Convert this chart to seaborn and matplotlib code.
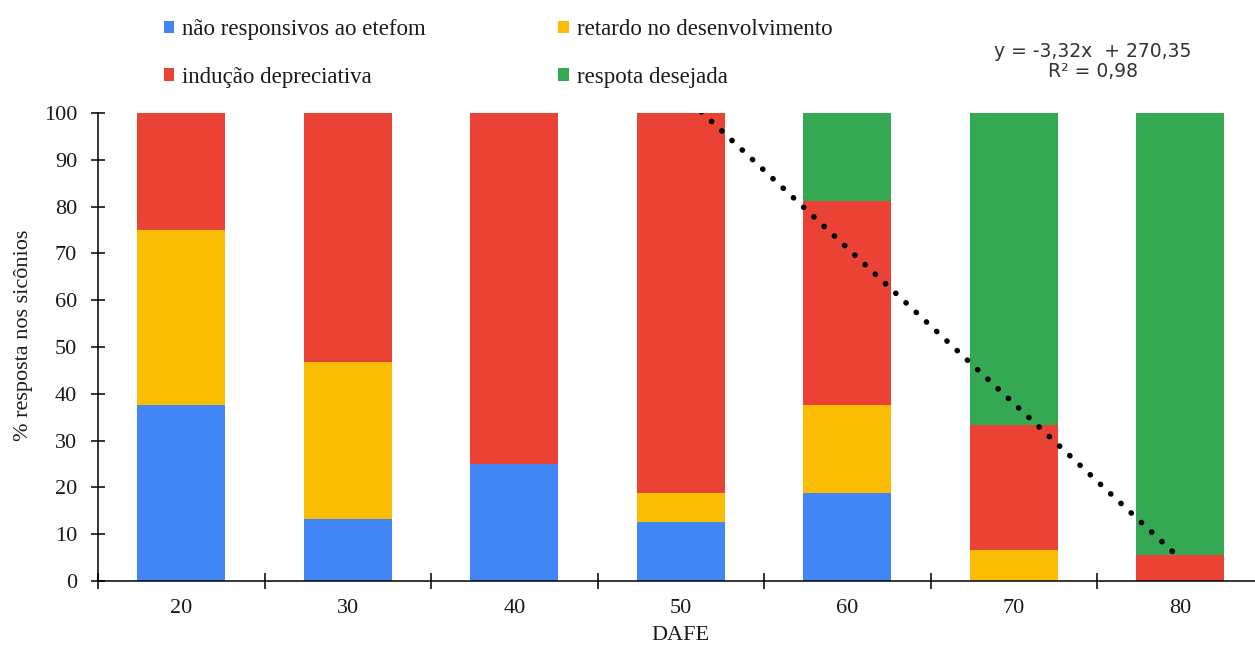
import numpy as np
import pandas as pd
import seaborn as sns
import matplotlib.pyplot as plt
from matplotlib.patches import Patch

# Days after ethephon application (DAFE) and response shares (%)
dafe = ["20", "30", "40", "50", "60", "70", "80"]
nao_responsivos = [37.5, 13.3, 25.0, 12.5, 18.75, 0.0, 0.0]
retardo = [37.5, 33.4, 0.0, 6.25, 18.75, 6.7, 0.0]
inducao = [25.0, 53.3, 75.0, 81.25, 43.75, 26.6, 5.6]
desejada = [0.0, 0.0, 0.0, 0.0, 18.75, 66.7, 94.4]

series_names = ["não responsivos ao etefom", "retardo no desenvolvimento",
                "indução depreciativa", "respota desejada"]
series_colors = ["#4285F4", "#FBBC04", "#EA4335", "#34A853"]

# Linear trend of the desired response
trend_slope = -3.32
trend_intercept = 270.35
trend_x_range = [50.0, 80.0]
trend_label = "y = -3,32x  + 270,35\nR² = 0,98"

y_ticks = list(range(0, 101, 10))

sns.set_theme(style="white")
plt.rcParams["font.family"] = ["Liberation Serif", "DejaVu Serif"]

fig = plt.figure(figsize=(12.55, 6.52), dpi=100)
ax = fig.add_axes([0.0781, 0.1089, 0.9287, 0.7178])

df = pd.DataFrame({"DAFE": dafe, "a": nao_responsivos, "b": retardo,
                   "c": inducao, "d": desejada})
bottom = np.zeros(len(dafe))
for col, color in zip(["a", "b", "c", "d"], series_colors):
    sns.barplot(data=df, x="DAFE", y=col, color=color, saturation=1,
                errorbar=None, width=0.53, bottom=bottom, ax=ax,
                linewidth=0)
    bottom = bottom + df[col].to_numpy()

# Trend line, DAFE mapped onto category positions
tx = np.linspace(trend_x_range[0], trend_x_range[1], 200)
ty = trend_slope * tx + trend_intercept
tpos = (tx - float(dafe[0])) / 10.0
ax.plot(tpos, ty, color="black", lw=4.0, linestyle=(0, (0.05, 2.47)),
        dash_capstyle="round", zorder=5)

ax.set_xlim(-0.5, len(dafe) - 0.5)
ax.set_ylim(0, 100)
ax.set_yticks(y_ticks)
ax.set_xticks(range(len(dafe)))
ax.set_xticklabels(dafe)
ax.set_xticks(np.arange(-0.5, len(dafe), 1.0), minor=True)

for s in ["top", "right"]:
    ax.spines[s].set_visible(False)
for s in ["left", "bottom"]:
    ax.spines[s].set_color("black")
    ax.spines[s].set_linewidth(1.1)

ax.tick_params(axis="y", which="major", direction="inout", length=10,
               width=1.1, color="black", labelsize=16, pad=10, left=True,
               labelcolor="#1a1a1a")
ax.tick_params(axis="x", which="major", length=0, labelsize=16, pad=13,
               labelcolor="#1a1a1a")
ax.tick_params(axis="x", which="minor", direction="inout", length=12,
               width=1.1, color="black", bottom=True)

ax.set_xlabel("DAFE", fontsize=16, color="#1a1a1a")
ax.xaxis.set_label_coords(0.5, -0.097)
ax.set_ylabel("% resposta nos sicônios", fontsize=16, color="#1a1a1a")
ax.yaxis.set_label_coords(-0.056, 0.526)

handles = [Patch(facecolor=c, edgecolor="none") for c in series_colors]
order = [0, 2, 1, 3]
leg = fig.legend([handles[i] for i in order], [series_names[i] for i in order],
                 ncol=2, loc="upper left", bbox_to_anchor=(0.114, 1.002),
                 frameon=False, fontsize=16.5, handlelength=0.44,
                 handleheight=0.44, handletextpad=0.35, labelspacing=1.15,
                 columnspacing=5.8)
for t in leg.get_texts():
    t.set_color("#1a1a1a")

fig.text(0.871, 0.906, trend_label, ha="center", va="center", fontsize=13.5,
         family=["DejaVu Sans"], color="#333333", linespacing=1.1)

fig.savefig("out.png", dpi=100, facecolor="white")
